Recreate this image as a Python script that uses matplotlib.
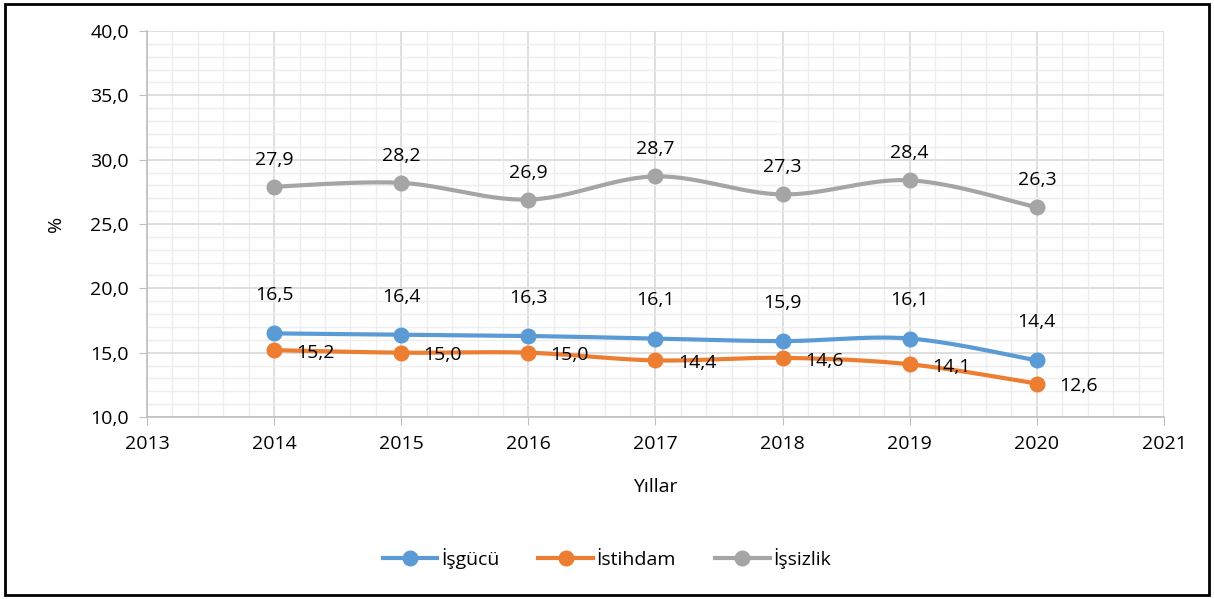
import numpy as np
import matplotlib.pyplot as plt
from matplotlib.ticker import MultipleLocator, FuncFormatter
from matplotlib.patches import Rectangle

plt.rcParams['font.family'] = ['Open Sans', 'DejaVu Sans']

years = [2014, 2015, 2016, 2017, 2018, 2019, 2020]
isgucu = [16.5, 16.4, 16.3, 16.1, 15.9, 16.1, 14.4]
istihdam = [15.2, 15.0, 15.0, 14.4, 14.6, 14.1, 12.6]
issizlik = [27.9, 28.2, 26.9, 28.7, 27.3, 28.4, 26.3]
names = ['İşgücü', 'İstihdam', 'İşsizlik']
colors = ['#5B9BD5', '#ED7D31', '#A5A5A5']


def smooth(x, y, n=30):
    # excel style smoothed line: bezier segments through the points
    x = np.asarray(x, float)
    y = np.asarray(y, float)
    px, py = [], []
    for i in range(len(x) - 1):
        i0 = max(i - 1, 0)
        i3 = min(i + 2, len(x) - 1)
        c1x = x[i] + (x[i + 1] - x[i0]) / 6
        c1y = y[i] + (y[i + 1] - y[i0]) / 6
        c2x = x[i + 1] - (x[i3] - x[i]) / 6
        c2y = y[i + 1] - (y[i3] - y[i]) / 6
        t = np.linspace(0, 1, n)
        bx = (1 - t) ** 3 * x[i] + 3 * (1 - t) ** 2 * t * c1x + 3 * (1 - t) * t ** 2 * c2x + t ** 3 * x[i + 1]
        by = (1 - t) ** 3 * y[i] + 3 * (1 - t) ** 2 * t * c1y + 3 * (1 - t) * t ** 2 * c2y + t ** 3 * y[i + 1]
        px.extend(bx)
        py.extend(by)
    return px, py


fig = plt.figure(figsize=(12.14, 5.99), dpi=100)
ax = fig.add_axes([0.1211, 0.3038, 0.8377, 0.6444])

series = [isgucu, istihdam, issizlik]
for vals, name, c in zip(series, names, colors):
    sx, sy = smooth(years, vals)
    ax.plot(sx, sy, color=c, linewidth=3, zorder=3)
    ax.plot(years, vals, 'o', color=c, markersize=10.5, zorder=4)
    ax.plot([], [], color=c, linewidth=3, marker='o', markersize=10.5, label=name)

fs = 14
for x, v in zip(years, isgucu):
    ax.annotate(f'{v:.1f}'.replace('.', ','), (x, v), xytext=(0, 21), textcoords='offset points',
                ha='center', va='bottom', fontsize=fs)
for x, v in zip(years, issizlik):
    ax.annotate(f'{v:.1f}'.replace('.', ','), (x, v), xytext=(0, 13), textcoords='offset points',
                ha='center', va='bottom', fontsize=fs)
for x, v in zip(years, istihdam):
    ax.annotate(f'{v:.1f}'.replace('.', ','), (x, v), xytext=(16, -2), textcoords='offset points',
                ha='left', va='center', fontsize=fs)

ax.set_xlim(2013, 2021)
ax.set_ylim(10, 40)
ax.xaxis.set_major_locator(MultipleLocator(1))
ax.xaxis.set_minor_locator(MultipleLocator(0.2))
ax.yaxis.set_major_locator(MultipleLocator(5))
ax.yaxis.set_minor_locator(MultipleLocator(1))
ax.yaxis.set_major_formatter(FuncFormatter(lambda v, p: f'{v:.1f}'.replace('.', ',')))
ax.xaxis.set_major_formatter(FuncFormatter(lambda v, p: f'{int(round(v))}'))
ax.grid(True, which='major', color='#D9D9D9', linewidth=1.2)
ax.grid(True, which='minor', color='#EDEDED', linewidth=1.0)
ax.set_axisbelow(True)
for s in ['top', 'right']:
    ax.spines[s].set_visible(False)
for s in ['left', 'bottom']:
    ax.spines[s].set_color('#BFBFBF')
    ax.spines[s].set_linewidth(1.2)
ax.tick_params(which='major', length=6, color='#BFBFBF', labelsize=fs, pad=7)
ax.tick_params(which='minor', length=0)
ax.set_xlabel('Yıllar', fontsize=fs, labelpad=18)
ax.set_ylabel('%', fontsize=fs, labelpad=18)

fig.legend(loc='center', bbox_to_anchor=(0.5, 0.068), ncol=3, frameon=False, fontsize=fs,
           handlelength=2.8, columnspacing=2.0, handletextpad=0.2)

fig.patches.append(Rectangle((0.004, 0.006), 0.992, 0.988, transform=fig.transFigure,
                             fill=False, edgecolor='black', linewidth=2))

fig.savefig('out.png', dpi=100)
